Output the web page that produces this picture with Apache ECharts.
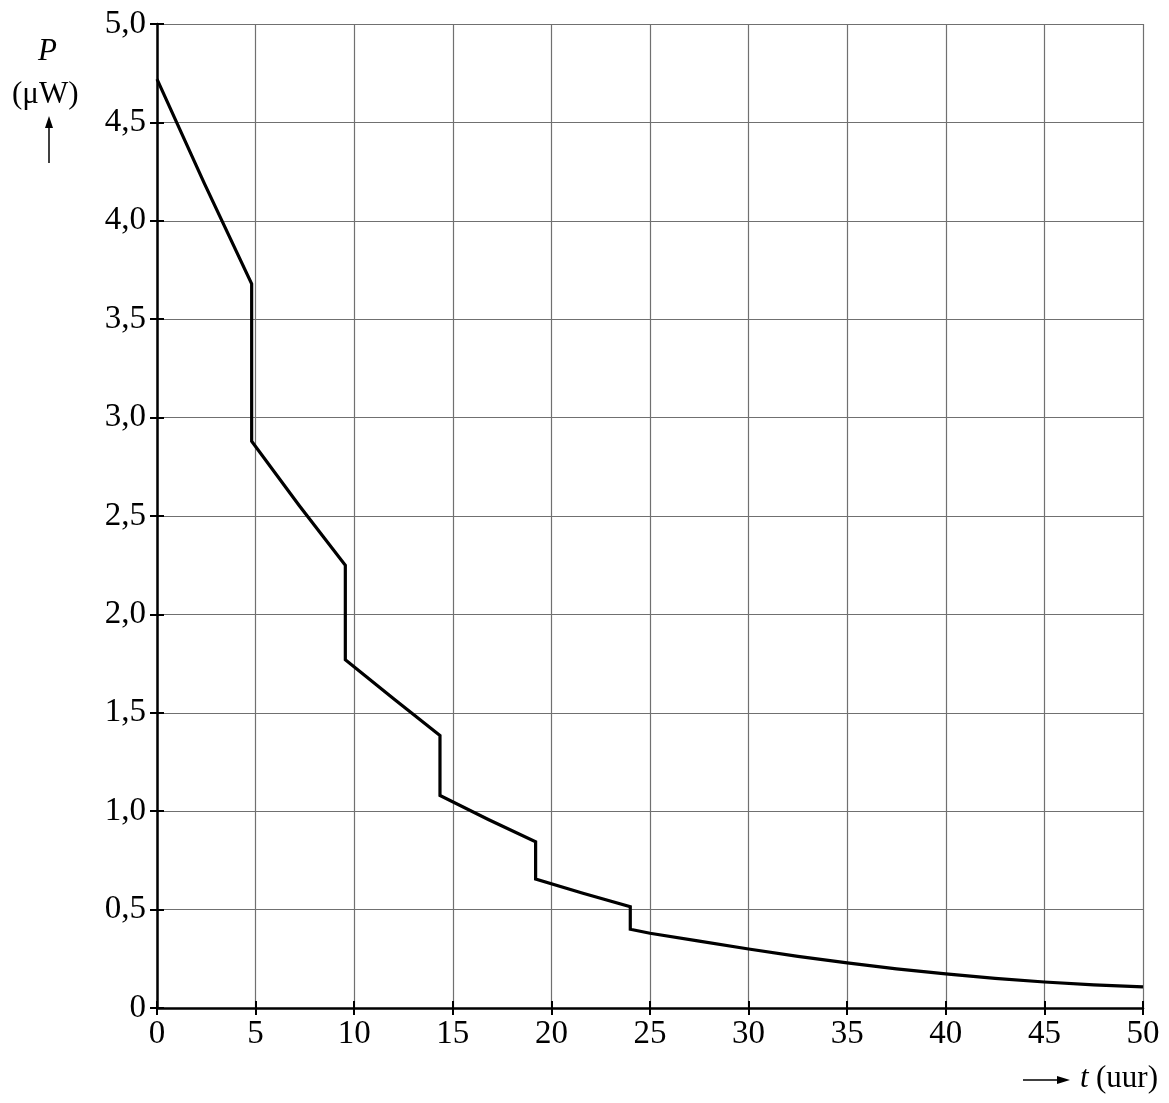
<!DOCTYPE html>
<html>
<head>
<meta charset="utf-8">
<script src="https://cdn.jsdelivr.net/npm/echarts@6/dist/echarts.min.js"></script>
<style>
html,body{margin:0;padding:0;background:#fff;}
#chart{width:1169px;height:1103px;}
</style>
</head>
<body>
<div id="chart"></div>
<script>
// Data
var tValues = [0, 2.4, 4.8, 4.8, 7.2, 9.55, 9.55, 12, 14.35, 14.35, 16.8, 19.2, 19.2, 21.6, 24.0, 24.0, 25, 27.5, 30, 32.5, 35, 37.5, 40, 42.5, 45, 47.5, 50];
var pValues = [4.72, 4.19, 3.68, 2.88, 2.555, 2.25, 1.77, 1.572, 1.385, 1.08, 0.958, 0.845, 0.655, 0.583, 0.515, 0.40, 0.38, 0.34, 0.30, 0.262, 0.229, 0.199, 0.173, 0.151, 0.132, 0.118, 0.107];
var xTicks = [0, 5, 10, 15, 20, 25, 30, 35, 40, 45, 50];
var yTicks = ['0', '0,5', '1,0', '1,5', '2,0', '2,5', '3,0', '3,5', '4,0', '4,5', '5,0'];
var yAxisTitle = 'P';
var yAxisUnit = '(\u03bcW)';
var xAxisTitle = 't';
var xAxisUnit = '(uur)';

var seriesData = tValues.map(function (t, i) { return [t, pValues[i]]; });
var FONT = '"Liberation Serif", "DejaVu Serif", serif';

var chart = echarts.init(document.getElementById('chart'));
var option = {
  animation: false,
  backgroundColor: '#fff',
  grid: { left: 157, right: 26, top: 24, bottom: 95 },
  xAxis: [{
    type: 'value', min: 0, max: 50, interval: 5,
    axisLine: { show: true, onZero: false, lineStyle: { color: '#000', width: 2.5 } },
    axisTick: { show: true, inside: false, length: 7, lineStyle: { color: '#000', width: 2 } },
    axisLabel: { color: '#000', fontFamily: FONT, fontSize: 33, margin: 10,
      formatter: function (v) { return String(xTicks[Math.round(v / 5)]); } },
    splitLine: { show: true, lineStyle: { color: '#707070', width: 1.2 } }
  }, {
    type: 'value', min: 0, max: 50, interval: 5, position: 'bottom',
    axisLine: { show: false },
    axisTick: { show: true, inside: true, length: 7, lineStyle: { color: '#000', width: 2 } },
    axisLabel: { show: false }, splitLine: { show: false }
  }],
  yAxis: [{
    type: 'value', min: 0, max: 5, interval: 0.5,
    axisLine: { show: true, onZero: false, lineStyle: { color: '#000', width: 2.5 } },
    axisTick: { show: true, inside: false, length: 7, lineStyle: { color: '#000', width: 2 } },
    axisLabel: { color: '#000', fontFamily: FONT, fontSize: 33, margin: 11,
      formatter: function (v) { return yTicks[Math.round(v * 2)]; } },
    splitLine: { show: true, lineStyle: { color: '#707070', width: 1.2 } }
  }, {
    type: 'value', min: 0, max: 5, interval: 0.5, position: 'left',
    axisLine: { show: false },
    axisTick: { show: true, inside: true, length: 7, lineStyle: { color: '#000', width: 2 } },
    axisLabel: { show: false }, splitLine: { show: false }
  }],
  series: [{
    type: 'line',
    data: seriesData,
    showSymbol: false,
    symbol: 'none',
    lineStyle: { color: '#000', width: 3.2, join: 'miter' },
    clip: true
  }],
  graphic: [
    { type: 'text', left: 38, top: 36, style: { text: yAxisTitle, font: 'italic 31px ' + FONT, fill: '#000' } },
    { type: 'text', left: 12, top: 79, style: { text: yAxisUnit, font: '31px ' + FONT, fill: '#000' } },
    { type: 'line', shape: { x1: 49, y1: 163, x2: 49, y2: 126 }, style: { stroke: '#000', lineWidth: 1.5 } },
    { type: 'polygon', shape: { points: [[49, 116], [45, 128], [53, 128]] }, style: { fill: '#000' } },
    { type: 'line', shape: { x1: 1023, y1: 1080, x2: 1058, y2: 1080 }, style: { stroke: '#000', lineWidth: 1.5 } },
    { type: 'polygon', shape: { points: [[1070, 1080], [1057, 1076], [1057, 1084]] }, style: { fill: '#000' } },
    { type: 'text', left: 1080, top: 1063, style: { text: xAxisTitle, font: 'italic 31px ' + FONT, fill: '#000' } },
    { type: 'text', left: 1096, top: 1063, style: { text: xAxisUnit, font: '31px ' + FONT, fill: '#000' } }
  ]
};
chart.setOption(option);
</script>
</body>
</html>
